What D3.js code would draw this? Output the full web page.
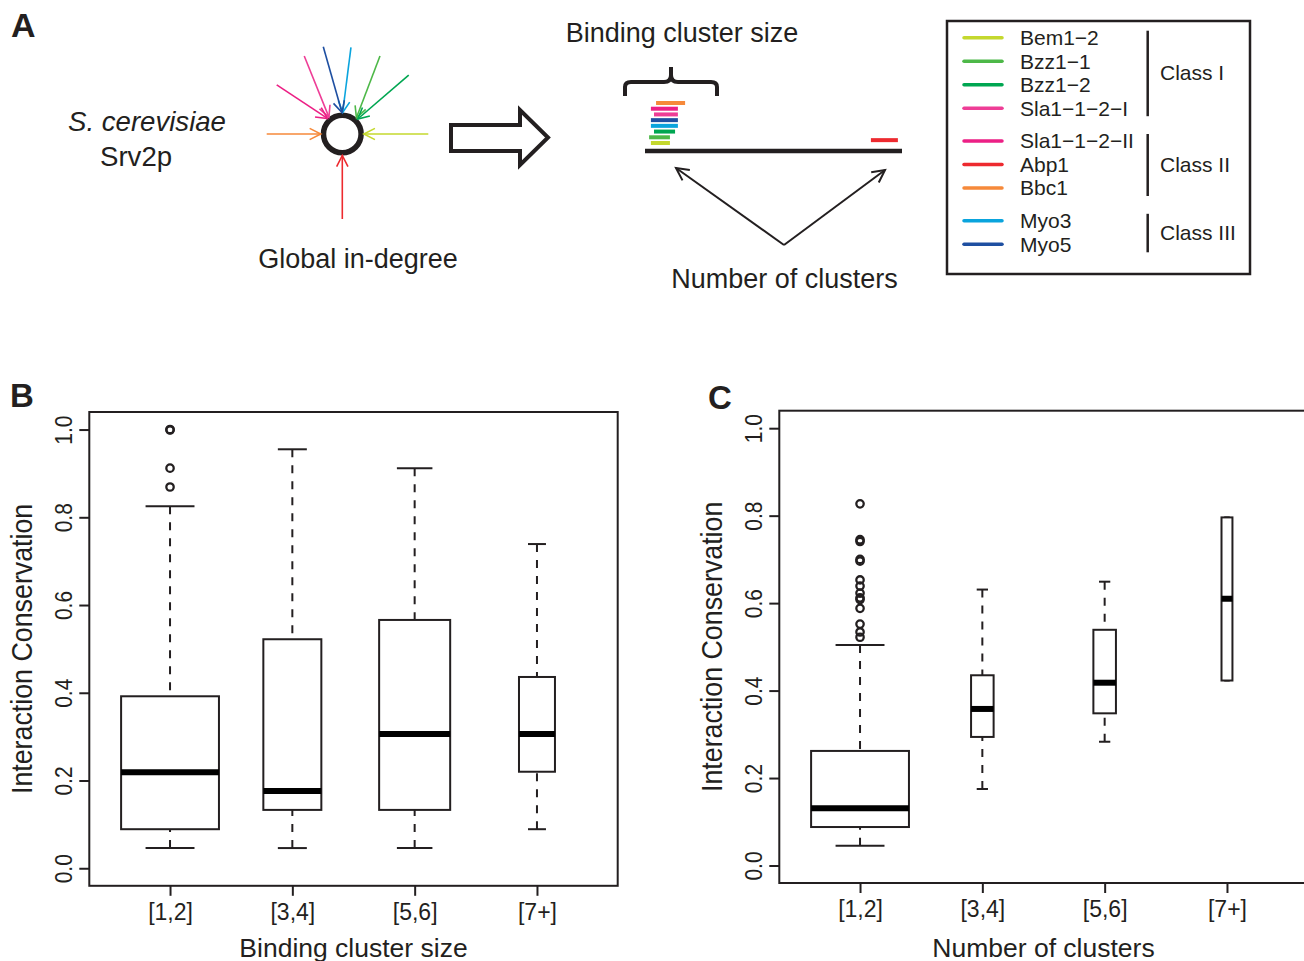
<!DOCTYPE html>
<html>
<head>
<meta charset="utf-8">
<script src="https://cdn.jsdelivr.net/npm/d3@7"></script>
<style>
  body { margin: 0; background: #fff; }
  svg { display: block; font-family: "Liberation Sans", Arial, Helvetica, sans-serif; }
</style>
</head>
<body>
<div id="chart"></div>
<script>
// ---------- data ----------
const proteins = ["Bem1\u22122", "Bzz1\u22121", "Bzz1\u22122", "Sla1\u22121\u22122\u2212I",
    "Sla1\u22121\u22122\u2212II", "Abp1", "Bbc1", "Myo3", "Myo5"];
const proteinColors = ["#c4d82e", "#4db848", "#00a651", "#ee3d96",
    "#ec1f85", "#ed2a2f", "#f6893a", "#0aa4dd", "#1e4fa1"];
const proteinClass = [0, 0, 0, 0, 1, 1, 1, 2, 2];
const classNames = ["Class I", "Class II", "Class III"];

// schematic: direction of each interaction arrow around Srv2p (degrees, screen y down)
const hubAngle = [0, -64.2, -41.6, -116, -143.2, 90, 180, -84.3, -102.3];
const hubLength = [86, 86.6, 88.8, 86.8, 81.9, 85, 75.6, 87.1, 89.3];
const hubTipAngle = [0, -48.9, -44.2, -128.5, -133.7, 90, 180, -89, -90.8];

// schematic: binding segment on Srv2p sequence (0-100) and stack row
const segStart = [2.3, 1.6, 3.5, 3.5, 2.3, 87.9, 4.3, 2.3, 2.3];
const segEnd = [9.7, 9.7, 11.7, 12.8, 12.8, 98.4, 15.6, 12.8, 12.8];
const segRow = [0, 1, 2, 5, 6, 0.5, 7, 3, 4];

const clusterLabels = ["[1,2]", "[3,4]", "[5,6]", "[7+]"];
const yTicks = [0, 0.2, 0.4, 0.6, 0.8, 1.0];

// Panel B: conservation by binding cluster size
const sizeLow = [0.046, 0.046, 0.046, 0.089];
const sizeQ1 = [0.089, 0.133, 0.133, 0.220];
const sizeMed = [0.219, 0.176, 0.306, 0.306];
const sizeQ3 = [0.392, 0.522, 0.566, 0.436];
const sizeHigh = [0.825, 0.955, 0.912, 0.739];
const sizeN = [74, 26, 39, 10];
const sizeOut = [[1.0, 0.999, 0.912, 0.869], [], [], []];

// Panel C: conservation by number of clusters
const countLow = [0.045, 0.175, 0.283, 0.423];
const countQ1 = [0.088, 0.294, 0.348, 0.423];
const countMed = [0.131, 0.358, 0.418, 0.610];
const countQ3 = [0.262, 0.435, 0.539, 0.796];
const countHigh = [0.504, 0.631, 0.649, 0.796];
const countN = [320, 17, 17, 4];
const countOut = [[0.827, 0.745, 0.741, 0.700, 0.696, 0.653, 0.639, 0.623,
    0.612, 0.608, 0.588, 0.552, 0.534, 0.522], [], [], []];

// ---------- drawing ----------
const width = 1304, height = 961;
const ink = "#231f20";

const svg = d3.select("#chart")
    .append("svg")
    .attr("width", width)
    .attr("height", height);

function label(txt, x, y, size, opts = {}) {
    return svg.append("text")
        .attr("x", x).attr("y", y)
        .attr("font-size", size)
        .attr("fill", ink)
        .attr("text-anchor", opts.anchor || "start")
        .attr("font-weight", opts.weight || null)
        .attr("font-style", opts.style || null)
        .text(txt);
}

function arrowHead(g, x1, y1, x2, y2, color, len, w) {
    const a = Math.atan2(y2 - y1, x2 - x1);
    const spread = 0.47;
    const p = d3.path();
    p.moveTo(x2 - len * Math.cos(a - spread), y2 - len * Math.sin(a - spread));
    p.lineTo(x2, y2);
    p.lineTo(x2 - len * Math.cos(a + spread), y2 - len * Math.sin(a + spread));
    g.append("path")
        .attr("d", p.toString())
        .attr("fill", "none")
        .attr("stroke", color)
        .attr("stroke-width", w);
}

// Panel letters
label("A", 11, 37, 34, { weight: "bold" });
label("B", 10, 407, 33, { weight: "bold" });
label("C", 708, 409, 33, { weight: "bold" });

// ---- Panel A: in-degree schematic ----
label("S. cerevisiae", 68, 131, 27.6, { style: "italic" });
label("Srv2p", 100, 166, 27.6);
label("Global in-degree", 358, 268, 27, { anchor: "middle" });

const hub = svg.append("g").attr("transform", "translate(342.3,134)");
hub.append("circle")
    .attr("r", 18.8)
    .attr("fill", "#fff")
    .attr("stroke", ink)
    .attr("stroke-width", 5.5);

const rad = d => d * Math.PI / 180;
proteins.forEach((name, i) => {
    const a = rad(hubAngle[i]), t = rad(hubTipAngle[i]);
    const x1 = hubLength[i] * Math.cos(a), y1 = hubLength[i] * Math.sin(a);
    const x2 = 21.5 * Math.cos(t), y2 = 21.5 * Math.sin(t);
    hub.append("line")
        .attr("x1", x1).attr("y1", y1)
        .attr("x2", x2).attr("y2", y2)
        .attr("stroke", proteinColors[i])
        .attr("stroke-width", 1.6);
    arrowHead(hub, x1, y1, x2, y2, proteinColors[i], 12.5, 1.6);
});

// big hollow arrow
svg.append("path")
    .attr("d", "M451,125 L520,125 L520,110 L548,137.5 L520,165 L520,151 L451,151 Z")
    .attr("fill", "#fff")
    .attr("stroke", ink)
    .attr("stroke-width", 4)
    .attr("stroke-linejoin", "miter");

// sequence diagram
const seq = d3.scaleLinear().domain([0, 100]).range([645, 902]);
const rowY = d3.scaleLinear().domain([0, 7]).range([143, 103]);

label("Binding cluster size", 682, 42, 27, { anchor: "middle" });
svg.append("path")
    .attr("d", "M625,96 L625,87 Q625,82 631,82 L664,82 Q671,82 671,75 L671,67 L671,75 Q671,82 678,82 L711,82 Q717,82 717,87 L717,96")
    .attr("fill", "none")
    .attr("stroke", ink)
    .attr("stroke-width", 4);

svg.append("g")
    .selectAll("line")
    .data(proteins)
    .join("line")
    .attr("x1", (d, i) => seq(segStart[i]))
    .attr("x2", (d, i) => seq(segEnd[i]))
    .attr("y1", (d, i) => rowY(segRow[i]))
    .attr("y2", (d, i) => rowY(segRow[i]))
    .attr("stroke", (d, i) => proteinColors[i])
    .attr("stroke-width", 4);

svg.append("line")
    .attr("x1", seq(0)).attr("x2", seq(100))
    .attr("y1", 151).attr("y2", 151)
    .attr("stroke", ink)
    .attr("stroke-width", 4.5);

const apex = [784, 245];
[[676, 168], [885, 170]].forEach(([tx, ty]) => {
    svg.append("line")
        .attr("x1", apex[0]).attr("y1", apex[1])
        .attr("x2", tx).attr("y2", ty)
        .attr("stroke", ink)
        .attr("stroke-width", 2);
    arrowHead(svg, apex[0], apex[1], tx, ty, ink, 14, 2);
});
label("Number of clusters", 784.5, 288, 27, { anchor: "middle" });

// legend
svg.append("rect")
    .attr("x", 947).attr("y", 21)
    .attr("width", 303).attr("height", 253)
    .attr("fill", "none")
    .attr("stroke", ink)
    .attr("stroke-width", 2.5);

const legendY = i => 37.7 + i * 23.5 + proteinClass[i] * 9.3;
const legend = svg.append("g")
    .selectAll("g")
    .data(proteins)
    .join("g")
    .attr("transform", (d, i) => `translate(0,${legendY(i)})`);
legend.append("line")
    .attr("x1", 964).attr("x2", 1002)
    .attr("stroke", (d, i) => proteinColors[i])
    .attr("stroke-width", 3.5)
    .attr("stroke-linecap", "round");
legend.append("text")
    .attr("x", 1020).attr("y", 7.3)
    .attr("font-size", 21)
    .attr("fill", ink)
    .text(d => d);

classNames.forEach((c, k) => {
    const rows = proteins.map((d, i) => i).filter(i => proteinClass[i] === k);
    const y0 = legendY(rows[0]), y1 = legendY(rows[rows.length - 1]);
    svg.append("line")
        .attr("x1", 1147.7).attr("x2", 1147.7)
        .attr("y1", y0 - 7).attr("y2", y1 + 8)
        .attr("stroke", ink)
        .attr("stroke-width", 2.5);
    label(c, 1160, (y0 + y1) / 2 + 7.5, 21);
});

// ---- Panels B and C: box plots ----
function boxPanel(p) {
    const x = d3.scaleLinear().domain([0.34, 4.66]).range([p.left, p.left + 528.4]);
    const y = d3.scaleLinear().domain([-0.04, 1.04]).range([p.bottom, p.top]);
    const g = svg.append("g");
    const maxN = d3.max(p.n);

    const stats = p.q1.map((d, i) => ({
        pos: i + 1, low: p.low[i], q1: d, med: p.med[i], q3: p.q3[i], high: p.high[i],
        half: 0.4 * Math.sqrt(p.n[i] / maxN), out: p.out[i]
    }));

    // whiskers (drawn from whisker end toward hinge)
    stats.forEach(s => {
        [[s.high, s.q3], [s.low, s.q1]].forEach(([a, b]) => {
            if (a === b) return;
            g.append("line")
                .attr("x1", x(s.pos)).attr("x2", x(s.pos))
                .attr("y1", y(a)).attr("y2", y(b))
                .attr("stroke", ink)
                .attr("stroke-width", 2)
                .attr("stroke-dasharray", "8,8");
        });
        [s.high, s.low].forEach(v => {
            g.append("line")
                .attr("x1", x(s.pos - s.half / 2)).attr("x2", x(s.pos + s.half / 2))
                .attr("y1", y(v)).attr("y2", y(v))
                .attr("stroke", ink)
                .attr("stroke-width", 2);
        });
    });

    // boxes
    g.selectAll("rect.box")
        .data(stats)
        .join("rect")
        .attr("class", "box")
        .attr("x", d => x(d.pos - d.half))
        .attr("width", d => x(d.pos + d.half) - x(d.pos - d.half))
        .attr("y", d => y(d.q3))
        .attr("height", d => y(d.q1) - y(d.q3))
        .attr("fill", "#fff")
        .attr("stroke", ink)
        .attr("stroke-width", 2);

    // medians
    g.selectAll("line.med")
        .data(stats)
        .join("line")
        .attr("class", "med")
        .attr("x1", d => x(d.pos - d.half))
        .attr("x2", d => x(d.pos + d.half))
        .attr("y1", d => y(d.med))
        .attr("y2", d => y(d.med))
        .attr("stroke", "#000")
        .attr("stroke-width", 6);

    // outliers
    stats.forEach(s => {
        g.selectAll(null)
            .data(s.out)
            .join("circle")
            .attr("cx", x(s.pos))
            .attr("cy", d => y(d))
            .attr("r", 3.7)
            .attr("fill", "none")
            .attr("stroke", ink)
            .attr("stroke-width", 2.3);
    });

    // frame
    g.append("rect")
        .attr("x", p.left).attr("y", p.top)
        .attr("width", 528.4).attr("height", p.bottom - p.top)
        .attr("fill", "none")
        .attr("stroke", ink)
        .attr("stroke-width", 2);

    // y axis
    const yAxis = g.append("g")
        .attr("transform", `translate(${p.left},0)`)
        .call(d3.axisLeft(y).tickValues(yTicks).tickSize(10).tickFormat(d3.format(".1f")));
    yAxis.attr("font-family", null).attr("font-size", null);
    yAxis.select(".domain").remove();
    yAxis.selectAll("line").attr("stroke", ink).attr("stroke-width", 2);
    yAxis.selectAll("text")
        .attr("x", null).attr("dy", null)
        .attr("text-anchor", "middle")
        .attr("transform", "translate(-17.6,0) scale(1.1,1) rotate(-90)")
        .attr("font-size", 21)
        .attr("fill", ink);

    // x axis
    const xAxis = g.append("g")
        .attr("transform", `translate(0,${p.bottom})`)
        .call(d3.axisBottom(x).tickValues([1, 2, 3, 4]).tickSize(10)
            .tickFormat((d, i) => clusterLabels[i]));
    xAxis.attr("font-family", null).attr("font-size", null);
    xAxis.select(".domain").remove();
    xAxis.selectAll("line").attr("stroke", ink).attr("stroke-width", 2);
    xAxis.selectAll("text")
        .attr("y", 34).attr("dy", null)
        .attr("font-size", 23)
        .attr("fill", ink);

    // axis titles
    g.append("text")
        .attr("transform", `translate(${p.left - 57.4},${(p.top + p.bottom) / 2}) scale(1.1,1) rotate(-90)`)
        .attr("text-anchor", "middle")
        .attr("font-size", 26.8)
        .attr("fill", ink)
        .text("Interaction Conservation");
    g.append("text")
        .attr("x", p.left + 264.2)
        .attr("y", 957)
        .attr("text-anchor", "middle")
        .attr("font-size", 26.5)
        .attr("fill", ink)
        .text(p.xTitle);
}

boxPanel({
    left: 89.3, top: 412, bottom: 885.8,
    low: sizeLow, q1: sizeQ1, med: sizeMed, q3: sizeQ3, high: sizeHigh,
    n: sizeN, out: sizeOut, xTitle: "Binding cluster size"
});

boxPanel({
    left: 779.3, top: 410.7, bottom: 883,
    low: countLow, q1: countQ1, med: countMed, q3: countQ3, high: countHigh,
    n: countN, out: countOut, xTitle: "Number of clusters"
});
</script>
</body>
</html>
